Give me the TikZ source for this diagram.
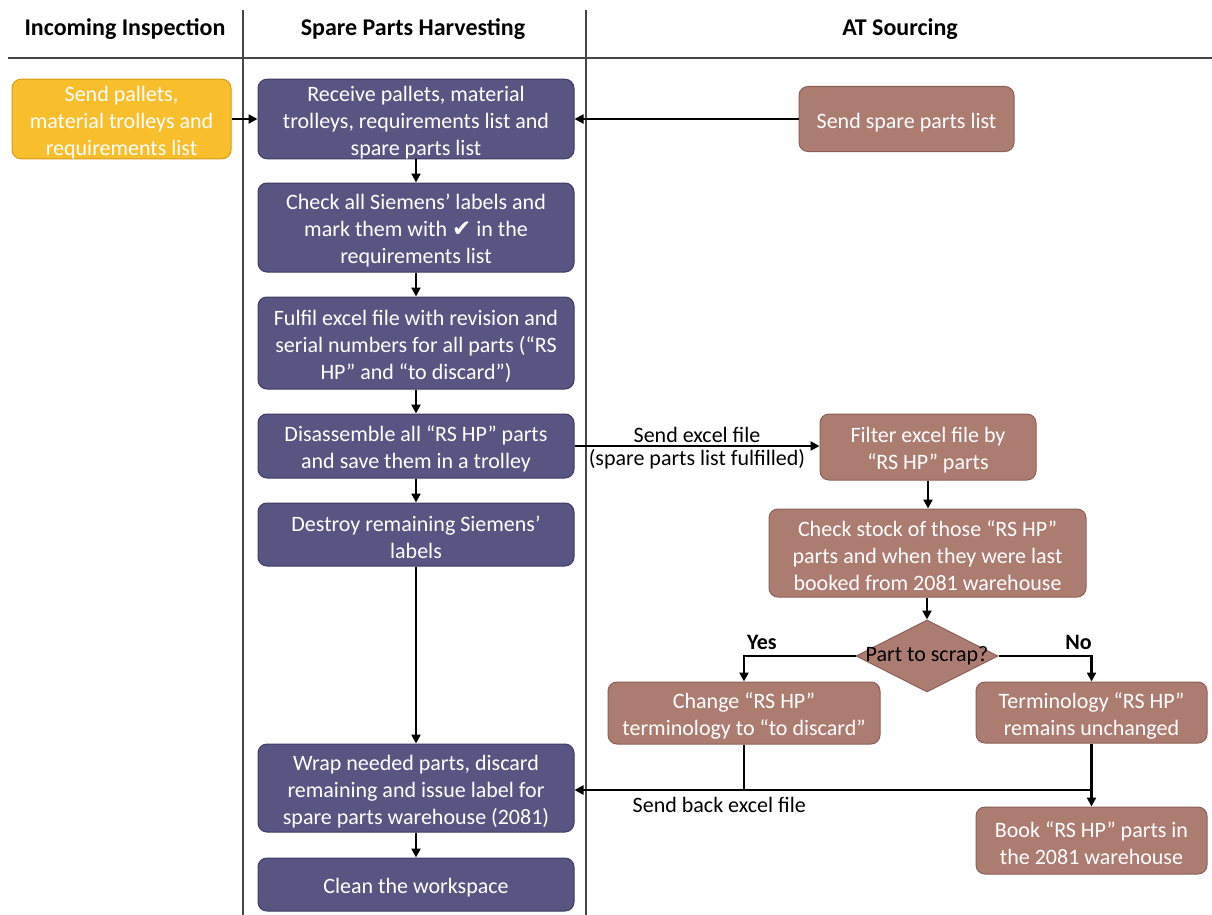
\documentclass[tikz,border=0pt]{standalone}
\usepackage{fontspec}
\setmainfont{Carlito}
\newfontfamily\symfont{DejaVu Sans}
\usetikzlibrary{arrows.meta,shapes.geometric}
\definecolor{inspfill}{RGB}{249,190,44}
\definecolor{inspdraw}{RGB}{214,156,20}
\definecolor{harvfill}{RGB}{89,85,130}
\definecolor{harvdraw}{RGB}{62,58,100}
\definecolor{srcfill}{RGB}{173,124,112}
\definecolor{srcdraw}{RGB}{140,96,86}
\definecolor{lanecol}{RGB}{70,70,70}
\newcommand{\boxfont}{\fontsize{22}{27}\selectfont}
\newcommand{\headfont}{\fontsize{24}{28}\selectfont\bfseries}
% strut that lowers the text block a little inside its box
\newcommand{\tp}{\rule{0pt}{22pt}}
\begin{document}
\begin{tikzpicture}[x=1pt,y=-1pt,
  box/.style={rounded corners=9pt, line width=1pt, text=white, align=center,
              inner sep=0pt, font=\boxfont},
  inspbox/.style={box, fill=inspfill, draw=inspdraw},
  harvbox/.style={box, fill=harvfill, draw=harvdraw},
  srcbox/.style={box, fill=srcfill, draw=srcdraw},
  lane/.style={line width=1.2pt, draw=lanecol},
  flow/.style={line width=2.4pt, draw=black},
  conn/.style={flow, -{Triangle[length=9pt,width=9pt]}},
  lbl/.style={font=\boxfont, text=black, inner sep=2pt},
  head/.style={font=\headfont, text=black}]
\useasboundingbox (0,0) rectangle (1212,915);
\fill[white] (0,0) rectangle (1212,915);

% swimlane headers and separators
\node[head] (h1) at (125,29) {Incoming Inspection};
\node[head] (h2) at (413,29) {Spare Parts Harvesting};
\node[head] (h3) at (900,29) {AT Sourcing};
\draw[lane] (8,58) -- (1212,58);
\draw[lane] (243,10) -- (243,915);
\draw[lane] (586,10) -- (586,915);

% Incoming Inspection
\node[inspbox, minimum width=219pt, minimum height=78pt] (send) at (121.5,119)
  {\tp Send pallets,\\material trolleys and\\requirements list};

% Spare Parts Harvesting
\node[harvbox, minimum width=316pt, minimum height=78pt] (recv) at (416,119)
  {\tp Receive pallets, material\\trolleys, requirements list and\\spare parts list};
\node[harvbox, minimum width=316pt, minimum height=89pt] (check) at (416,227.5)
  {\tp Check all Siemens’ labels and\\mark them with {\symfont\fontsize{23}{27}\selectfont ✔} in the\\requirements list};
\node[harvbox, minimum width=316pt, minimum height=92pt] (fulfil) at (416,343)
  {\tp Fulfil excel file with revision and\\serial numbers for all parts (“RS\\HP” and “to discard”)};
\node[harvbox, minimum width=316pt, minimum height=64pt] (dis) at (416,446)
  {\tp Disassemble all “RS HP” parts\\and save them in a trolley};
\node[harvbox, minimum width=316pt, minimum height=63pt] (destroy) at (416,534.5)
  {\tp Destroy remaining Siemens’\\labels};
\node[harvbox, minimum width=316pt, minimum height=88pt] (wrap) at (416,788)
  {\tp Wrap needed parts, discard\\remaining and issue label for\\spare parts warehouse (2081)};
\node[harvbox, minimum width=316pt, minimum height=53pt] (clean) at (416,884.5)
  {\tp Clean the workspace};

% AT Sourcing
\node[srcbox, minimum width=215pt, minimum height=65pt] (spl) at (906.5,119)
  {\tp Send spare parts list};
\node[srcbox, minimum width=216pt, minimum height=66pt] (filter) at (928,447)
  {\tp Filter excel file by\\“RS HP” parts};
\node[srcbox, minimum width=317pt, minimum height=88pt] (stock) at (927.5,553)
  {\tp Check stock of those “RS HP”\\parts and when they were last\\booked from 2081 warehouse};
\node[diamond, fill=srcfill, draw=srcdraw, line width=1pt, inner sep=0pt,
      minimum width=142pt, minimum height=72pt,
      label={[font=\boxfont, text=black]center:Part to scrap?}] (dia) at (927,656) {};
\node[srcbox, minimum width=272pt, minimum height=62pt] (chg) at (744,713)
  {\tp Change “RS HP”\\terminology to “to discard”};
\node[srcbox, minimum width=231pt, minimum height=61pt] (term) at (1091.5,712.5)
  {\tp Terminology “RS HP”\\remains unchanged};
\node[srcbox, minimum width=231pt, minimum height=67pt] (book) at (1091.5,840.5)
  {\tp Book “RS HP” parts in\\the 2081 warehouse};

% flow connectors
\draw[conn] (send.east) -- (recv.west);
\draw[conn] (spl.west) -- (spl.west -| recv.east);
\draw[conn] (recv) -- (check);
\draw[conn] (check) -- (fulfil);
\draw[conn] (fulfil) -- (dis);
\draw[conn] (dis) -- (destroy);
\draw[conn] (destroy) -- (wrap);
\draw[conn] (wrap) -- (clean);
\draw[conn] (dis.east) --
  node[lbl, above] {Send excel file}
  node[lbl, below] {(spare parts list fulfilled)}
  (dis.east -| filter.west);
\draw[conn] (filter.south) -- (filter.south |- stock.north);
\draw[conn] (stock.south -| dia.north) -- (dia.north);
\draw[conn] (dia.west) -| node[lbl, pos=0.42, above, font=\boxfont\bfseries, yshift=3pt] {Yes} (chg.north);
\draw[conn] (dia.east) -| node[lbl, pos=0.43, above, font=\boxfont\bfseries, yshift=3pt] {No} (term.north);

% return path of the excel file
\coordinate (jn) at (1091.5,790);
\draw[flow] (chg.south) -- (chg.south |- jn);
\draw[conn] (term.south) -- (book.north);
\draw[conn] (jn) -- node[lbl, pos=0.72, below, yshift=-4pt] {Send back excel file} (jn -| wrap.east);
\end{tikzpicture}
\end{document}
